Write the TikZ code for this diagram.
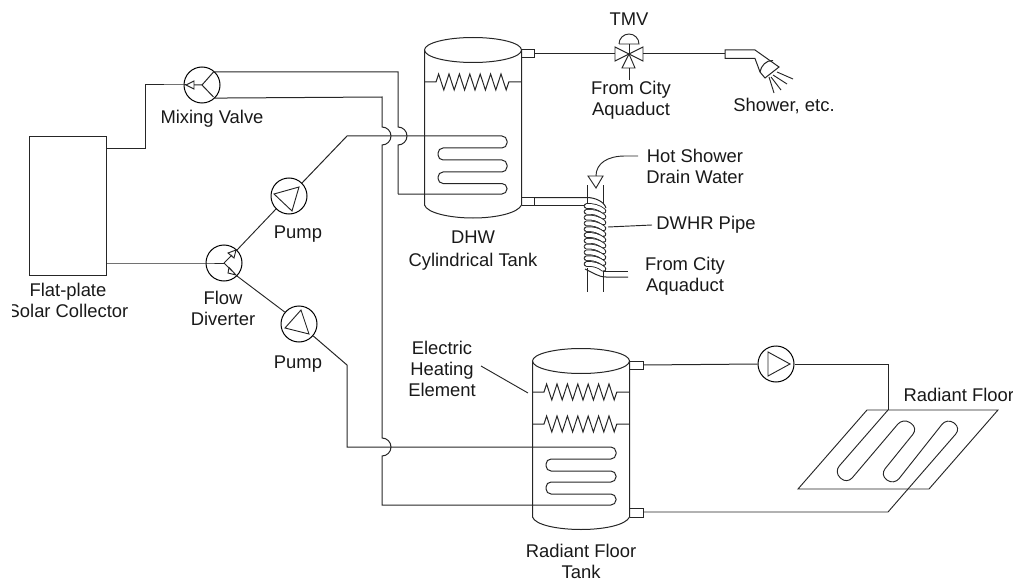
\documentclass[tikz,border=0pt]{standalone}
\usepackage{fontspec}
\setmainfont{Liberation Sans}
\tikzset{
  every picture/.style={line width=0.75pt},
  lbl/.style={align=center,inner sep=0pt,font=\fontsize{13.8}{15.8}\selectfont,text=black!90},
  wheel/.style={draw,circle,minimum size=27pt,inner sep=0pt},
  wire/.style={draw=black!85,line width=0.75pt},
  tube/.style={rounded corners=3.8pt},
  floorloop/.style={rounded corners=6pt},
  tri/.style={draw=black!85,line width=0.7pt,line join=miter},
  thin wire/.style={draw=black!85,line width=0.7pt}
}
\newcommand{\zigzag}[3]{% x0,x1,y
  \draw[wire] (#1,#3) -- ++(11.5,0) -- ++(2.6,-8)
    -- ++(5.2,16) -- ++(5.2,-16) -- ++(5.2,16) -- ++(5.2,-16) -- ++(5.2,16) -- ++(5.2,-16)
    -- ++(5.2,16) -- ++(5.2,-16) -- ++(5.2,16) -- ++(5.2,-16) -- ++(5.2,16) -- ++(5.2,-16) -- ++(5.2,16)
    -- ++(2.6,-8) -- (#2,#3);
}
\begin{document}
\begin{tikzpicture}[x=0.75pt,y=-0.75pt]
\useasboundingbox (0,0) rectangle (1013,581);

% ---- Labels
\node[lbl] (lsolar) at (68,300) {Flat-plate\\Solar Collector};
\fill[white] (0,285) rectangle (12,320);
\node[lbl] (lmix) at (212,119) {Mixing Valve};
\node[lbl] (ldiv) at (223,308) {Flow\\Diverter};
\node[lbl] (lp1) at (298,234) {Pump};
\node[lbl] (lp2) at (298,364) {Pump};
\node[lbl] (ldhw) at (473,251) {DHW\\[1.5pt]Cylindrical Tank};
\node[lbl] (ltmv) at (629,19) {TMV};
\node[lbl] (lcity1) at (631,100) {From City\\Aquaduct};
\node[lbl] (lshower) at (784,106) {Shower, etc.};
\node[lbl] (lhot) at (695,166) {Hot Shower\\Drain Water};
\node[lbl] (ldwhr) at (706,225) {DWHR Pipe};
\node[lbl] (lcity2) at (685,276.5) {From City\\Aquaduct};
\node[lbl] (lelec) at (442,369) {Electric\\Heating\\Element};
\node[lbl,anchor=west] (lfloor) at (903,395) {Radiant Floor};
\node[lbl] (ltank) at (581,561) {Radiant Floor\\Tank};

% ---- Components
\node[draw=black!85,line width=0.75pt,minimum width=57.75pt,minimum height=103.5pt,inner sep=0pt] (sc) at (67.5,206) {};
\node[wheel] (mv) at (202,85) {};
\node[wheel] (fd) at (224,263) {};
\node[wheel] (p1) at (289,196) {};
\node[wheel] (p2) at (299,324) {};
\node[wheel] (p3) at (776,364) {};

\draw[tri] (186,85) -- (194,81) -- (194,89) -- cycle;
\draw[wire] (194,85) -- (202,85) -- (213.5,72);
\draw[wire] (202,85) -- (213.5,97);
\draw[wire] (224,263) -- (232,255);
\draw[wire] (224,263) -- (232,271);
\draw[tri] (236,250) -- (228,253) -- (234,258) -- cycle;
\draw[tri] (236,275) -- (229,267.5) -- (228,273) -- cycle;
\draw[tri] (274,194) -- (299,187) -- (292,211) -- cycle;
\draw[tri] (301,310) -- (309,334) -- (285,328) -- cycle;
\draw[tri] (768,352) -- (790,364) -- (768,376) -- cycle;

% ---- Collector loop
\coordinate (sct) at (106,149);
\coordinate (scb) at (106,263);
\draw[wire] (sct) -- (145,149) -- (145,85) -- (mv.west) -- (186,85);
\draw[wire] (scb) -- (fd.west) -- (fd.center);
\draw[thin wire] (fd.45) -- (p1.225);
\draw[thin wire] (fd.-45) -- (p2.140);

% ---- Tank 1
\coordinate (t1top) at (473,50);
\draw[wire] (473,50) ellipse [x radius=48.5,y radius=12.5];
\draw[wire] (424.5,50) -- (424.5,205) .. controls (427,213) and (450,218) .. (473,218)
   .. controls (496,218) and (518,213) .. (521.5,205) -- (521.5,50);
\zigzag{424.5}{521.5}{82}
\draw[wire] (521.5,50) -- (534,50) -- (534,58) -- (521.5,58);
\draw[wire] (521.5,197) -- (534,197) -- (534,205) -- (521.5,205);

% ---- Mixing valve returns and jumps
\draw[wire] (mv.45) -- (398,72) -- (398,127) arc[start angle=90,end angle=-90,x radius=9,y radius=-9] -- (398,194);
\draw[wire] (mv.-45) -- (382,97) -- (382,127) arc[start angle=90,end angle=-90,x radius=9,y radius=-9]
   -- (382,438) arc[start angle=90,end angle=-90,x radius=9,y radius=-9]
   -- (382,505) [tube] -- (616,505) -- (616,494) -- (546,494) -- (546,482) -- (616,482) -- (616,471) -- (546,471) -- (546,459) -- (616,459) -- (616,447) [sharp corners] -- (347,447) -- (347,365) -- (p2.-40);

% ---- Coil of tank 1
\draw[wire] (p1.45) -- (347,136) [tube] -- (507,136) -- (507,148) -- (438,148) -- (438,160) -- (507,160) -- (507,172) -- (438,172) -- (438,183.5) -- (507,183.5) -- (507,194) [sharp corners] -- (398,194);

% ---- TMV
\coordinate (vc) at (629,54);
\draw[wire] (534,54) -- (615,54);
\draw[tri] (vc) -- (615,47) -- (615,61) -- cycle;
\draw[tri] (vc) -- (643,47) -- (643,61) -- cycle;
\draw[tri] (vc) -- (622,68) -- (635,68) -- cycle;
\draw[thin wire] (vc) -- (629,44);
\draw[thin wire] (619,44) -- (639,44) arc[start angle=0,end angle=180,x radius=10,y radius=-10];
\draw[thin wire] (629,68) -- (629,80);

% ---- Shower
\draw[wire] (643,54) -- (725,54);
\draw[wire] (725,50) -- (725,58.5) -- (755,58.5) -- (760,72) -- (765,78) -- (779,67) -- (755,50) -- cycle;
\draw[wire] (760,72) .. controls (761,66) and (766,60) .. (773,60.5);
\draw[thin wire] (777,72) -- (793,79);
\draw[thin wire] (773,75) -- (787,84);
\draw[thin wire] (771,77) -- (781,90);
\draw[thin wire] (769,77) -- (774,93);

% ---- DWHR pipe
\draw[wire] (587,185) -- (587,204);
\draw[wire] (603,185) -- (603,204);
\draw[wire] (587,268) -- (587,292);
\draw[wire] (603,268) -- (603,292);
\draw[wire] (534,197.5) -- (587,197.5) .. controls (594,197.5) and (604,201) .. (606,208);
\draw[wire] (534,205) -- (585,205);
\draw[wire] (603,271) -- (628,271);
\draw[wire] (585,269) .. controls (592,272) and (598,277) .. (606,277) -- (628,277);
\foreach \y in {206,211.8,217.6,223.4,229.2,235,240.8,246.6,252.4,258.2,264}{
  \draw[line width=5.6*0.75pt,line cap=round,draw=black!85] (586.5,\y) .. controls (592,\y-0.5) and (599,\y+1) .. (603.5,\y+5);
  \draw[line width=3.9*0.75pt,line cap=round,white] (586.5,\y) .. controls (592,\y-0.5) and (599,\y+1) .. (603.5,\y+5);
}
\draw[tri] (588,176) -- (603,176) -- (596,188) -- cycle;
\coordinate (hotend) at (638,156);
\draw[thin wire] (hotend) -- (625,156) .. controls (608,156) and (596,163) .. (596,176);
\draw[thin wire] (608,227) -- (652,225);

% ---- Tank 2
\draw[wire] (581,361) ellipse [x radius=48.5,y radius=12.5];
\draw[wire] (532.5,361) -- (532.5,517) .. controls (535,525) and (558,529.5) .. (581,529.5)
   .. controls (604,529.5) and (626,525) .. (629.5,517) -- (629.5,361);
\zigzag{532.5}{629.5}{392}
\zigzag{532.5}{629.5}{424}
\draw[wire] (629.5,361) -- (643,361) -- (643,369) -- (629.5,369);
\draw[wire] (629.5,508) -- (643,508) -- (643,517) -- (629.5,517);
\draw[thin wire] (481,366) -- (528,393);

% ---- Radiant floor
\draw[wire] (643,365) -- (p3.west);
\draw[wire] (p3.east) -- (888,364) -- (888,410);
\draw[thin wire] (867,410) -- (998,410) -- (929,489) -- (798,489) -- cycle;
\draw[thin wire] (643,512) -- (888,512) [floorloop] -- (961,428) -- (947,418) -- (894,485) -- (880,475) -- (918,428) -- (903,418) -- (847,484) -- (834,472) -- (888,410);
\end{tikzpicture}
\end{document}
